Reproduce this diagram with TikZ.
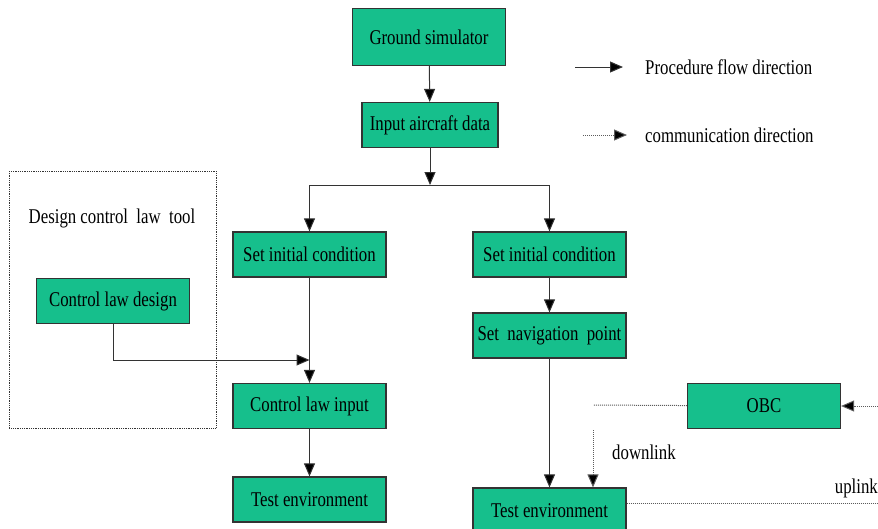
\documentclass[tikz,border=0pt]{standalone}
\usepackage{fontspec}
\setmainfont[FakeStretch=0.8]{Liberation Serif}
\usepackage{tikz}
\usetikzlibrary{arrows.meta}
\definecolor{boxfill}{HTML}{16BF8C}
\definecolor{edge}{HTML}{333333}
\tikzset{
  blk/.style={draw=edge, fill=boxfill, line width=1.2pt, minimum width=153pt,
    minimum height=45pt, inner sep=0pt, font=\fontsize{21}{23}\selectfont},
  tip/.style={-{Triangle[length=13pt,width=11pt,fill=black]}},
  flow/.style={draw=edge, line width=1pt, tip},
  comm/.style={draw=edge!80, line width=1pt, densely dotted, tip},
  commline/.style={draw=edge!80, line width=1pt, densely dotted},
  lab/.style={font=\fontsize{21}{23}\selectfont, inner sep=0pt},
}

\begin{document}
\begin{tikzpicture}[x=1pt, y=-1pt]
  \useasboundingbox (0,0) rectangle (878,528);
  % tool frame
  \draw[edge, line width=0.8pt, densely dotted] (9,171) rectangle (216,428);
  \node[lab] (tool) at (112,218) {Design control\ \ law\ \ tool};
  % boxes
  \node[blk, minimum height=57pt] (GS) at (429,37) {Ground simulator};
  \node[blk, minimum width=136pt] (IAD) at (430,125) {Input aircraft data};
  \node[blk] (SIC1) at (309.5,254.5) {Set initial condition};
  \node[blk] (SIC2) at (549.5,254.5) {Set initial condition};
  \node[blk] (CLD) at (113,301) {Control law design};
  \node[blk] (SNP) at (549.5,335.5) {Set\ \ navigation\ \ point};
  \node[blk] (CLI) at (309.5,406) {Control law input};
  \node[blk] (TE1) at (309.5,499.5) {Test environment};
  \node[blk] (TE2) at (549.5,510.5) {Test environment};
  \node[blk] (OBC) at (764,406) {OBC};
  % procedure flow
  \coordinate (S) at (430,185);
  \coordinate (J) at (113,360);
  \draw[flow] (GS) -- (IAD);
  \draw[flow] (IAD) -- (S);
  \draw[flow] (S) -| (SIC1);
  \draw[flow] (S) -| (SIC2);
  \draw[flow] (SIC1) -- (CLI);
  \draw[flow] (CLD) -- (J) -- (SIC1.south |- J);
  \draw[flow] (CLI) -- (TE1);
  \draw[flow] (SIC2) -- (SNP);
  \draw[flow] (SNP) -- (SNP.south |- TE2.north);
  % communication
  \coordinate (DL) at (593,405);
  \coordinate (DT) at (593,430);
  \coordinate (IN) at (878,406);
  \coordinate (UP) at (878,503);
  \draw[commline] (OBC) -- (DL);
  \draw[comm] (DT) -- (DT |- TE2.north);
  \draw[comm] (IN) -- (OBC);
  \draw[commline] (TE2.east |- UP) -- (UP);
  \node[lab, anchor=west] (down) at (612,452) {downlink};
  \node[lab, anchor=east] (up) at (878,488) {uplink};
  % legend
  \coordinate (L1a) at (575,67);
  \coordinate (L1b) at (623,67);
  \coordinate (L2a) at (583,135);
  \coordinate (L2b) at (627,135);
  \draw[flow] (L1a) -- (L1b);
  \draw[comm] (L2a) -- (L2b);
  \node[lab, anchor=west] (pfd) at (645,67) {Procedure flow direction};
  \node[lab, anchor=west] (cd) at (645,135) {communication direction};
\end{tikzpicture}
\end{document}
